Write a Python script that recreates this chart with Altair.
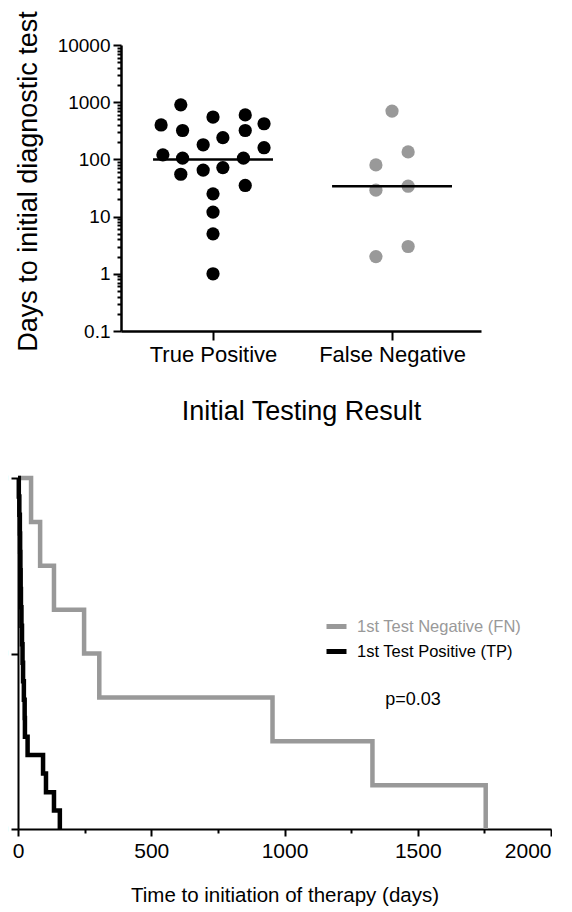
import altair as alt
import pandas as pd

FONT = "Liberation Sans"

# ---------------- top panel data ----------------
categories = ["True Positive", "False Negative"]
tp_days = [900, 400, 320, 550, 600, 420, 320, 240, 180, 160, 120, 105, 105, 55, 65, 72, 35, 25, 12, 5, 1]
tp_spread = [-0.18, -0.29, -0.17, 0.0, 0.18, 0.285, 0.18, 0.055, -0.055, 0.285, -0.28,
             -0.17, 0.17, -0.18, -0.055, 0.055, 0.18, 0.0, 0.0, 0.0, 0.0]
fn_days = [700, 135, 80, 29, 34, 3, 2]
fn_spread = [0.0, 0.09, -0.09, -0.09, 0.09, 0.09, -0.09]
medians = [100, 34]
y_major = [0.1, 1, 10, 100, 1000, 10000]
y_major_labels = ["0.1", "1", "10", "100", "1000", "10000"]

# ---------------- bottom panel data ----------------
km_series = ["1st Test Negative (FN)", "1st Test Positive (TP)"]
fn_time = [0, 49, 83, 135, 248, 305, 955, 1330, 1755]
fn_surv = [100, 87.5, 75, 62.5, 50, 37.5, 25, 12.5, 0]
tp_time = [0, 3, 5, 7, 8, 9, 10, 11, 13, 15, 17, 19, 22, 25, 26, 36, 94, 105, 135, 157]
tp_surv = [100, 94.7, 89.5, 84.2, 78.9, 73.7, 68.4, 63.2, 57.9, 52.6, 47.4, 42.1,
           36.8, 31.6, 26.3, 21.1, 15.8, 10.5, 5.3, 0]
x_major = [0, 500, 1000, 1500, 2000]
x_minor = [250, 750, 1250, 1750]
km_y_ticks = [0, 50, 100]
p_text = ["p=0.03"]
p_time = [1482]
p_surv = [36.8]

# ---------------- top panel ----------------
pts = pd.DataFrame({
    "pos": [1 + s for s in tp_spread] + [2 + s for s in fn_spread],
    "days": tp_days + fn_days,
    "group": [categories[0]] * len(tp_days) + [categories[1]] * len(fn_days),
})
HALF = 0.335
med = pd.DataFrame({
    "pos": [i + 1 - HALF for i in range(len(categories))],
    "pos2": [i + 1 + HALF for i in range(len(categories))],
    "days": medians,
})

y_minor = [round(k * 10 ** d, 6) for d in range(-1, 4) for k in range(2, 10)]
y_vals = sorted(y_major + y_minor)
maj_arr = "[" + ",".join(str(v) for v in y_major) + "]"
lab_arr = "[" + ",".join("'" + s + "'" for s in y_major_labels) + "]"
y_label_expr = f"indexof({maj_arr}, datum.value) >= 0 ? {lab_arr}[indexof({maj_arr}, datum.value)] : ''"
y_tick_size = {"condition": {"test": f"indexof({maj_arr}, datum.value) >= 0", "value": 8}, "value": 4}

x_top_scale = alt.Scale(domain=[0.486, 2.497], nice=False, zero=False)
y_top_scale = alt.Scale(type="log", domain=[0.1, 10000], nice=False)

x_top_axis = alt.Axis(
    values=[1, 2],
    labelExpr=f"datum.value == 1 ? '{categories[0]}' : '{categories[1]}'",
    title="Initial Testing Result", titleFontSize=27, titleFontWeight="normal",
    titlePadding=33, titleColor="black", titleFont=FONT,
    labelFontSize=22, labelPadding=4, labelColor="black", labelFont=FONT, labelFlush=False,
    tickSize=9, tickWidth=2, tickColor="black", domainColor="black", domainWidth=2.5, grid=False,
)
y_top_axis = alt.Axis(
    values=y_vals, labelExpr=y_label_expr, labelOverlap=False,
    title="Days to initial diagnostic test", titleFontSize=27, titleFontWeight="normal",
    titlePadding=15, titleY=136, titleColor="black", titleFont=FONT,
    labelFontSize=19, labelPadding=3, labelColor="black", labelFont=FONT,
    tickSize=y_tick_size, tickWidth=2, tickColor="black", domainColor="black", domainWidth=2.5, grid=False,
)

points = alt.Chart(pts).mark_circle(size=175, opacity=1).encode(
    x=alt.X("pos:Q", scale=x_top_scale, axis=x_top_axis),
    y=alt.Y("days:Q", scale=y_top_scale, axis=y_top_axis),
    color=alt.Color("group:N", scale=alt.Scale(domain=categories, range=["#000000", "#999999"]), legend=None),
)
median_rule = alt.Chart(med).mark_rule(color="black", strokeWidth=2.5).encode(
    x="pos:Q", x2="pos2:Q", y="days:Q",
)
top = alt.layer(points, median_rule).properties(width=360, height=286)

# ---------------- bottom panel ----------------
km = pd.DataFrame({
    "time": fn_time + tp_time,
    "surv": fn_surv + tp_surv,
    "series": [km_series[0]] * len(fn_time) + [km_series[1]] * len(tp_time),
})
x_vals = sorted(x_major + x_minor)
xmaj_arr = "[" + ",".join(str(v) for v in x_major) + "]"
x_axis_b = alt.Axis(
    values=x_vals,
    labelExpr=f"indexof({xmaj_arr}, datum.value) >= 0 ? format(datum.value, 'd') : ''",
    labelOverlap=False, labelFlush=False,
    labelAlign={"condition": {"test": f"datum.value == {x_major[-1]}", "value": "right"}, "value": "center"},
    title="Time to initiation of therapy (days)", titleFontSize=20.5, titleFontWeight="normal",
    titlePadding=24, titleColor="black", titleFont=FONT,
    labelFontSize=21, labelPadding=4, labelColor="black", labelFont=FONT,
    tickSize={"condition": {"test": f"indexof({xmaj_arr}, datum.value) >= 0", "value": 7}, "value": 4},
    tickWidth=2, tickColor="black", domainColor="black", domainWidth=2, grid=False,
)
y_axis_b = alt.Axis(
    values=km_y_ticks, format="d",
    labelFontSize=21, labelPadding=3, labelColor="black", labelFont=FONT,
    tickSize=7, tickWidth=2, tickColor="black", domainColor="black", domainWidth=2, grid=False,
)
legend = alt.Legend(
    title=None, orient="none", legendX=306, legendY=136,
    symbolType="stroke", symbolStrokeWidth=5, symbolSize=400,
    labelFontSize=16.5, labelFont=FONT, labelOffset=8, rowPadding=2, padding=0, labelLimit=400,
    labelColor={"expr": f"datum.label == '{km_series[0]}' ? '#999999' : '#000000'"},
)
lines = alt.Chart(km).mark_line(interpolate="step-after", strokeWidth=4.5, strokeJoin="miter").encode(
    x=alt.X("time:Q", scale=alt.Scale(domain=[0, 2000], nice=False), axis=x_axis_b),
    y=alt.Y("surv:Q", scale=alt.Scale(domain=[0, 100], nice=False), axis=y_axis_b, title=None),
    color=alt.Color("series:N", scale=alt.Scale(domain=km_series, range=["#999999", "#000000"]), legend=legend),
)
ptxt = alt.Chart(pd.DataFrame({"time": p_time, "surv": p_surv, "label": p_text})).mark_text(
    font=FONT, fontSize=18, color="black", align="center", baseline="middle"
).encode(x="time:Q", y="surv:Q", text="label:N")
bottom = alt.layer(lines, ptxt).properties(width=533, height=351)

# ---------------- layout ----------------
spacer = alt.Chart(pd.DataFrame({"v": [0]})).mark_point(opacity=0, size=1).encode(
    x=alt.value(0.5), y=alt.value(5)
).properties(width=1, height=10)

top_row = alt.hconcat(spacer, top, spacing=-5)
bottom_row = alt.hconcat(bottom, spacing=0)
chart = alt.concat(top_row, bottom_row, columns=1, align="none", spacing=43).resolve_scale(
    color="independent"
).properties(
    padding={"left": -36, "top": 2, "right": 0, "bottom": 2}
).configure(font=FONT, view=alt.ViewConfig(stroke="transparent", strokeWidth=0))

chart.save("out.html", embed_options={"renderer": "svg", "actions": False})
